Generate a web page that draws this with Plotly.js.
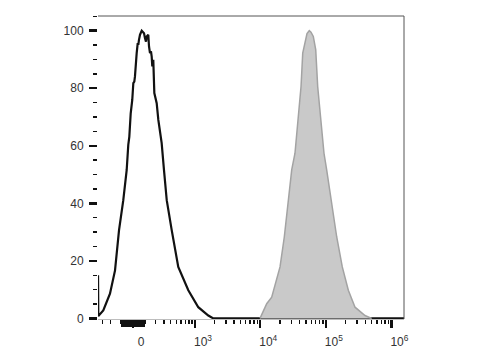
<!DOCTYPE html>
<html><head><meta charset="utf-8">
<script src="https://cdn.plot.ly/plotly-3.0.1.min.js"></script>
<style>html,body{margin:0;padding:0;background:#fff}#chart{width:480px;height:360px}</style>
</head><body><div id="chart"></div>
<script>
// Biexponential (arcsinh) display scale: axis unit ~ one decade
const BIEX_C = 230;
function biex(v){ return Math.asinh(v / BIEX_C) / Math.LN10; }

// Unstained / isotype histogram (open, black), x in biex display units, y = % of max
const openX = [-0.533,-0.529,-0.453,-0.351,-0.274,-0.213,-0.148,-0.096,-0.072,-0.056,-0.035,-0.011,0.005,0.020,0.030,0.041,0.056,0.072,0.081,0.091,0.107,0.133,0.148,0.168,0.183,0.198,0.209,0.233,0.244,0.259,0.274,0.285,0.294,0.309,0.325,0.361,0.386,0.412,0.437,0.472,0.514,0.590,0.690,0.843,0.995,1.148,1.224,4.131];
const openY = [15,0.8,2.8,8.6,16.7,30.7,41.1,51.6,60.3,63.2,71.3,76.0,81.8,82.3,84.1,88.8,92.2,95.7,95.1,96.8,98.6,100,99.7,99.1,97.4,96.2,98.0,98.6,94.5,92.2,92.8,91.0,87.6,89.9,78.3,74.8,69.0,64.4,60.9,51.6,41.1,30.7,17.9,9.8,3.9,1.0,0,0];

// Stained histogram (filled, gray)
const filledX = [1.936,1.986,2.038,2.114,2.175,2.241,2.306,2.367,2.419,2.469,2.519,2.561,2.587,2.622,2.652,2.687,2.713,2.748,2.785,2.815,2.861,2.911,2.952,3.029,3.105,3.190,3.282,3.384,3.536,3.638];
const filledY = [0,2.8,5.1,7.4,12.1,17.9,28.3,40.0,51.6,57.4,69.0,80.6,92.2,96.3,99.0,100,99.5,98.0,93.4,80.6,69.0,57.4,51.6,40.0,28.3,17.9,9.8,3.9,1.0,0];

// Axis ticks (intensity values)
const xMajorVals = [0, 1e3, 1e4, 1e5, 1e6];
const xMajorText = ['0','10<sup>3</sup>','10<sup>4</sup>','10<sup>5</sup>','10<sup>6</sup>'];
const xMinorVals = [-300,-200,-100,100,200,300,400,500,600,700,800,900,
  2e3,3e3,4e3,5e3,6e3,7e3,8e3,9e3,2e4,3e4,4e4,5e4,6e4,7e4,8e4,9e4,2e5,3e5,4e5,5e5,6e5,7e5,8e5,9e5];
const xBlockVals = [-90,-80,-70,-60,-50,-40,-30,-20,-10,10,20,30,40,50,60,70,80,90];
const yMajorVals = [0,20,40,60,80,100];
const yMinorVals = [5,10,15,25,30,35,45,50,55,65,70,75,85,90,95,105];

const font = {family:'Arial, "Liberation Sans", sans-serif', size:12, color:'#333'};

const traces = [
  {x: openX, y: openY, type:'scatter', mode:'lines', line:{color:'#111', width:2.2}, hoverinfo:'skip'},
  {x: filledX, y: filledY, type:'scatter', mode:'lines', fill:'tozeroy', fillcolor:'#c9c9c9',
   line:{color:'#a3a3a3', width:1.5}, hoverinfo:'skip'},
  {x: [biex(0)], y: [null], xaxis:'x2', type:'scatter', mode:'lines', hoverinfo:'skip'}
];

const layout = {
  width:480, height:360,
  margin:{l:98, r:76, t:16, b:41},
  paper_bgcolor:'#fff', plot_bgcolor:'#fff',
  showlegend:false, font: font,
  xaxis:{
    range:[-0.5335, 4.1305], showgrid:false, zeroline:false,
    showline:true, linecolor:'#bdbdbd', linewidth:1,
    tickmode:'array', tickvals: xMajorVals.map(biex), ticktext: xMajorText,
    ticks:'outside', ticklen:8, tickwidth:2.5, tickcolor:'#111',
    ticklabelshift:8, ticklabelstandoff:4, tickfont: font,
    minor:{tickmode:'array', tickvals: xMinorVals.map(biex), ticks:'outside', ticklen:4, tickwidth:1.4, tickcolor:'#111', showgrid:false}
  },
  xaxis2:{
    overlaying:'x', matches:'x', side:'bottom', showgrid:false, zeroline:false, showline:false,
    tickmode:'array', tickvals: xBlockVals.map(biex), ticks:'outside', ticklen:7, tickwidth:1.3, tickcolor:'#111',
    showticklabels:false
  },
  yaxis:{
    range:[-0.2, 105.1], showgrid:false, zeroline:false, showline:false,
    tickmode:'array', tickvals: yMajorVals, ticktext: yMajorVals.map(String),
    ticks:'outside', ticklen:8, tickwidth:2.5, tickcolor:'#111', tickfont: font,
    ticklabelstandoff:3,
    minor:{tickmode:'array', tickvals: yMinorVals, ticks:'outside', ticklen:4, tickwidth:1.4, tickcolor:'#111', showgrid:false}
  },
  shapes:[
    {type:'line', xref:'paper', yref:'paper', x0:0, x1:1, y0:1, y1:1, line:{color:'#555', width:1}},
    {type:'line', xref:'paper', yref:'paper', x0:1, x1:1, y0:0, y1:1, line:{color:'#555', width:1}}
  ]
};

Plotly.newPlot('chart', traces, layout, {staticPlot:true, displayModeBar:false});
</script></body></html>
